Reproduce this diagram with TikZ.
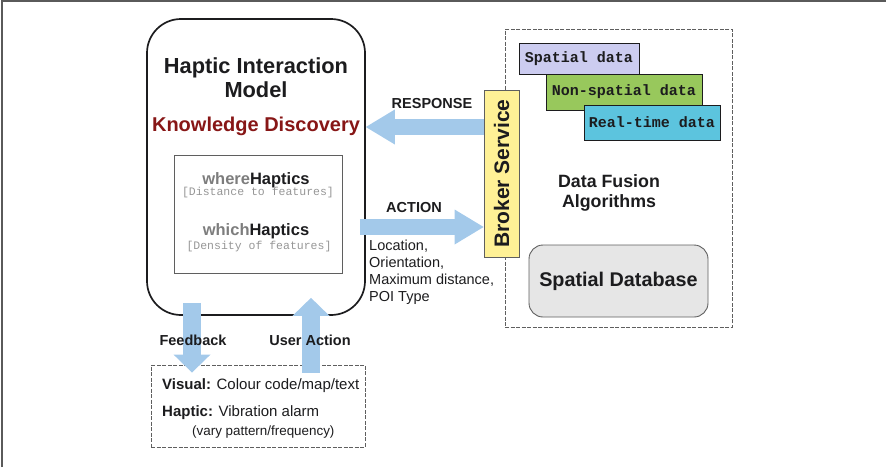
\documentclass[tikz,border=0pt]{standalone}
\usepackage{fontspec}
\setmainfont{Liberation Sans}
\setmonofont{Liberation Mono}
\usetikzlibrary{arrows.meta}

\definecolor{ink}{RGB}{28,28,30}
\definecolor{framegray}{RGB}{90,90,90}
\definecolor{boxgray}{RGB}{95,95,95}
\definecolor{kdred}{RGB}{135,22,22}
\definecolor{softgray}{RGB}{125,125,125}
\definecolor{monogray}{RGB}{150,150,150}
\definecolor{fatblue}{RGB}{163,201,234}
\definecolor{brokeryellow}{RGB}{255,241,150}
\definecolor{spatialfill}{RGB}{204,204,240}
\definecolor{nonspatialfill}{RGB}{152,200,92}
\definecolor{realtimefill}{RGB}{92,196,222}
\definecolor{dbfill}{RGB}{230,230,230}

\newcommand{\fsz}[1]{\fontsize{#1}{#1}\selectfont}

\tikzset{
  txt/.style={inner sep=0pt, text=ink},
  fatarrowh/.style={draw=fatblue, line width=16pt,
    -{Triangle[length=29pt,width=35pt,line width=0pt]}},
  fatarrowv/.style={draw=fatblue, line width=18pt,
    -{Triangle[length=18pt,width=37pt,line width=0pt]}},
  datatag/.style={draw=ink, line width=0.8pt, inner sep=0pt,
    font=\fsz{15}\ttfamily\bfseries, text=ink},
  dashbox/.style={draw=boxgray, line width=0.9pt,
    dash pattern=on 4pt off 1.5pt, inner sep=0pt},
}

\begin{document}
\begin{tikzpicture}[x=1pt,y=-1pt]
\useasboundingbox (0,0) rectangle (886,467);

% outer frame (top and left edges)
\draw[framegray, line width=1.6pt] (2,467) -- (2,1) -- (886,1);

% haptic interaction model
\node[draw=ink, line width=1.7pt, rounded corners=34pt,
      minimum width=218pt, minimum height=296pt, inner sep=0pt] (model) at (256,167) {};
\node[txt, font=\fontsize{21.8}{24}\selectfont\bfseries, align=center] (title) at (256,78)
  {Haptic Interaction\\Model};
\node[txt, text=kdred, font=\fsz{20}\bfseries] (kd) at (256,126) {Knowledge Discovery};

\node[draw=boxgray, line width=0.8pt, minimum width=168pt, minimum height=118pt,
      inner sep=0pt] (haptics) at (258,214) {};
\node[txt, font=\fsz{16.5}\bfseries] (where) at (256,180)
  {{\color{softgray}where}Haptics};
\node[txt, text=monogray, font=\fsz{11.5}\ttfamily] (wheredesc) at (258,193)
  {[Distance to features]};
\node[txt, font=\fsz{16.5}\bfseries] (which) at (256,231)
  {{\color{softgray}which}Haptics};
\node[txt, text=monogray, font=\fsz{11.5}\ttfamily] (whichdesc) at (259,247)
  {[Density of features]};

% data side
\node[dashbox, minimum width=227pt, minimum height=298pt] (fusion) at (618.5,178) {};
\node[datatag, fill=spatialfill, minimum width=120pt, minimum height=31pt]
  (spatial) at (579,58.5) {Spatial data};
\node[datatag, fill=nonspatialfill, minimum width=156pt, minimum height=36pt]
  (nonspatial) at (624,92) {Non-spatial data};
\node[datatag, fill=realtimefill, minimum width=136pt, minimum height=35pt]
  (realtime) at (652,122.5) {Real-time data};
\node[txt, font=\fontsize{17.8}{19.5}\selectfont\bfseries, align=center] (algos) at (609,193)
  {Data Fusion\\Algorithms};
\node[draw=boxgray, line width=0.9pt, fill=dbfill, rounded corners=14pt,
      minimum width=179pt, minimum height=72pt, inner sep=0pt,
      font=\fsz{19.8}\bfseries, text=ink] (db) at (618.5,281) {Spatial Database};

% broker service and the arrows to and from it
\node[draw=boxgray, line width=0.8pt, fill=brokeryellow, minimum width=35pt,
      minimum height=167pt, inner sep=0pt] (broker) at (501.5,173.5) {};
\node[txt, rotate=90, font=\fsz{21}\bfseries] (brokertext) at (broker.center) {Broker Service};
\draw[fatarrowh] ([yshift=46.5pt]broker.west) -- ([yshift=40pt]model.east);
\draw[fatarrowh] ([yshift=-60pt,xshift=-6pt]model.east) -- ([yshift=-53.5pt]broker.west);

\node[txt, font=\fsz{14.5}\bfseries] (response) at (432,104) {RESPONSE};
\node[txt, font=\fsz{14.5}\bfseries] (action) at (414,208) {ACTION};
\node[txt, anchor=north west, align=left, font=\fontsize{14.5}{17}\selectfont] (params)
  at (369,240) {Location,\\Orientation,\\Maximum distance,\\POI Type};

% user feedback box
\node[dashbox, minimum width=214pt, minimum height=82pt] (output) at (258,406) {};
\node[txt, anchor=west, font=\fsz{15}] (visual) at (162,386)
  {\textbf{Visual:} Colour code/map/text};
\node[txt, anchor=west, font=\fsz{15}] (haptic) at (162,413)
  {\textbf{Haptic:} Vibration alarm};
\node[txt, anchor=west, font=\fsz{13.4}] (vary) at (192,432)
  {(vary pattern/frequency)};

\draw[fatarrowv] ([xshift=-64pt,yshift=13pt]model.south) -- ([xshift=-66pt,yshift=-8pt]output.north);
\draw[fatarrowv] ([xshift=53pt,yshift=-8pt]output.north) -- ([xshift=55pt,yshift=18pt]model.south);

\node[txt, font=\fsz{14.5}\bfseries] (feedback) at (193,340) {Feedback};
\node[txt, font=\fsz{14.5}\bfseries] (useraction) at (310,340) {User Action};
\end{tikzpicture}
\end{document}
